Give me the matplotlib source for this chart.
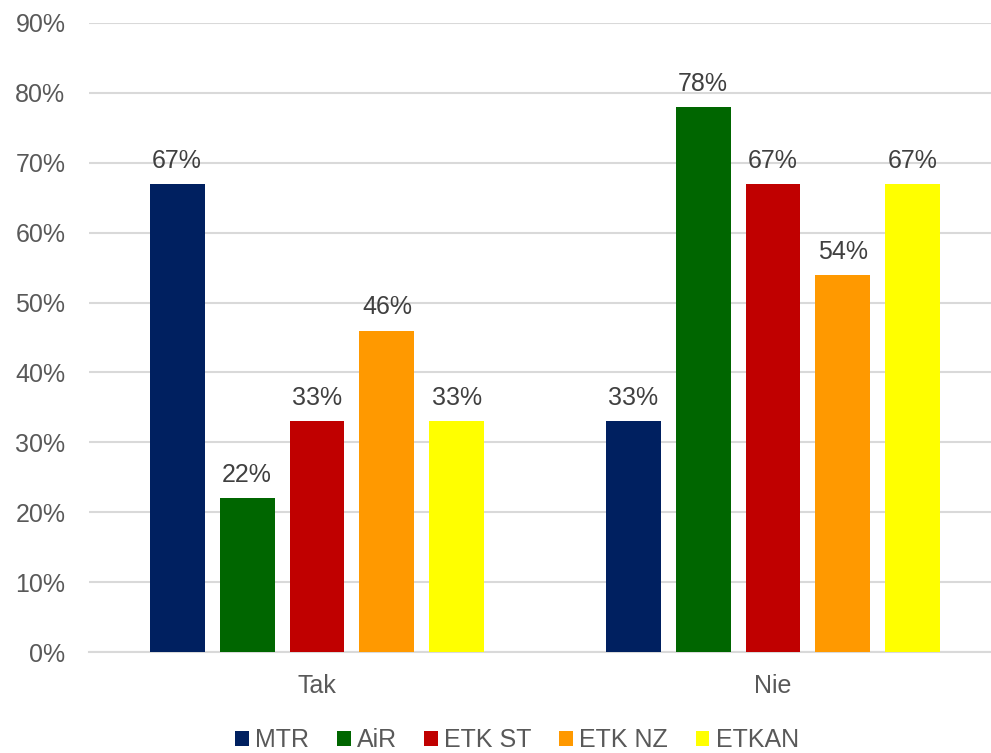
import numpy as np
import matplotlib.pyplot as plt

plt.rcParams['font.family'] = ['Liberation Sans', 'DejaVu Sans']

categories = ["Tak", "Nie"]
series_names = ["MTR", "AiR", "ETK ST", "ETK NZ", "ETKAN"]
values = {
    "MTR": [67, 33],
    "AiR": [22, 78],
    "ETK ST": [33, 67],
    "ETK NZ": [46, 54],
    "ETKAN": [33, 67],
}
colors = ["#002060", "#006600", "#C00000", "#FF9900", "#FFFF00"]
y_ticks = [0, 10, 20, 30, 40, 50, 60, 70, 80, 90]

fig = plt.figure(figsize=(9.91, 7.53), dpi=100)
ax = fig.add_axes([89 / 991, 101 / 753, 912 / 991, 629 / 753])

x = np.arange(len(categories))
width = 0.1206
step = 0.1535
for i, name in enumerate(series_names):
    pos = x + (i - 2) * step
    bars = ax.bar(pos, values[name], width=width, color=colors[i], label=name, zorder=3)
    for b, v in zip(bars, values[name]):
        ax.text(b.get_x() + b.get_width() / 2, v + 2.3, f"{v}%", ha="center", va="baseline",
                fontsize=18, color="#404040")

ax.set_xlim(-0.5, 1.5)
ax.set_ylim(0, 90)
ax.set_yticks(y_ticks)
ax.set_yticklabels([f"{t}%" for t in y_ticks])
ax.set_xticks(x)
ax.set_xticklabels(categories)
ax.tick_params(axis="y", length=0, pad=17, labelsize=18, labelcolor="#595959")
ax.tick_params(axis="x", length=0, pad=16, labelsize=18, labelcolor="#595959")
ax.grid(axis="y", color="#d9d9d9", linewidth=1.5, zorder=0)
for s in ["top", "right", "left"]:
    ax.spines[s].set_visible(False)
ax.spines["bottom"].set_color("#d9d9d9")
ax.spines["bottom"].set_linewidth(1.5)

leg = fig.legend(loc="center", bbox_to_anchor=(517 / 991, 13 / 753), ncol=5, frameon=False,
                 fontsize=18, handlelength=0.55, handleheight=0.55, handletextpad=0.25,
                 columnspacing=1.1)
for t in leg.get_texts():
    t.set_color("#595959")

fig.savefig("out.png", dpi=100)
